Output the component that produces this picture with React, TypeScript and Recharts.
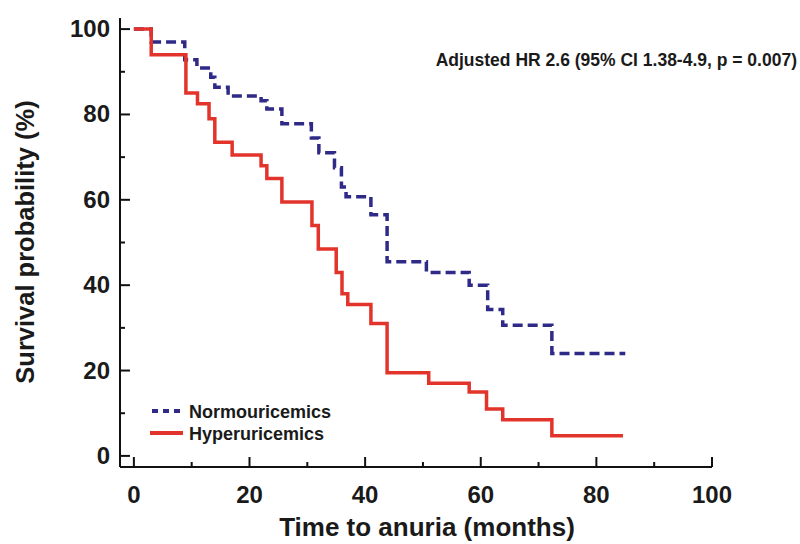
import React from 'react';
import { LineChart, Line, XAxis, YAxis, Customized } from 'recharts';

const normoTimes = [0, 3, 8.8, 10.9, 13.3, 14, 16.3, 22, 23, 25.6, 30.7, 32, 34.7, 35.9, 36.7, 41, 43.8, 50.6, 58, 61.2, 63.8, 72.3, 85];
const normoSurv = [100, 97, 92.8, 90.9, 88.7, 86.4, 84.3, 83.2, 81.3, 77.8, 74.5, 71, 67.5, 63, 60.7, 56.5, 45.5, 43, 40, 34.3, 30.6, 24, 24];

const hyperTimes = [0, 3, 9, 11, 13, 14, 17, 22, 23, 25.6, 30.8, 31.9, 35, 36, 37, 41, 43.8, 51, 58, 61, 63.8, 72.3, 84.6];
const hyperSurv = [100, 94, 85, 82.5, 79, 73.5, 70.5, 68, 65, 59.5, 54, 48.5, 43, 38, 35.5, 31, 19.5, 17, 15, 11, 8.5, 4.7, 4.7];

const xTicks = [0, 10, 20, 30, 40, 50, 60, 70, 80, 90, 100];
const yTicks = [0, 10, 20, 30, 40, 50, 60, 70, 80, 90, 100];

const seriesNames = ['Normouricemics', 'Hyperuricemics'];
const annotation = 'Adjusted HR 2.6 (95% CI 1.38-4.9, p = 0.007)';
const xTitle = 'Time to anuria (months)';
const yTitle = 'Survival probability (%)';

const BLUE = '#2f2a88';
const RED = '#e3342c';
const FONT = '"Liberation Sans", Arial, sans-serif';

const normoData = normoTimes.map((t, i) => ({ t, s: normoSurv[i] }));
const hyperData = hyperTimes.map((t, i) => ({ t, s: hyperSurv[i] }));

const YTick = (props: any) => {
  const { x, y, payload } = props;
  const v = payload.value as number;
  const major = v % 20 === 0;
  const ax = x + 10;
  return (
    <g>
      <line x1={ax} y1={y} x2={ax + (major ? 10 : 5)} y2={y} stroke="#111" strokeWidth={2} />
      {major && (
        <text x={x} y={y + 8} textAnchor="end" fontFamily={FONT} fontWeight="bold" fontSize={24} fill="#1a1a1a">
          {v}
        </text>
      )}
    </g>
  );
};

const XTick = (props: any) => {
  const { x, y, payload } = props;
  const v = payload.value as number;
  const major = v % 20 === 0;
  return (
    <g>
      <line x1={x} y1={y} x2={x} y2={y - (major ? 10 : 5)} stroke="#111" strokeWidth={2} />
      {major && (
        <text x={x} y={y + 36} textAnchor="middle" fontFamily={FONT} fontWeight="bold" fontSize={24} fill="#1a1a1a">
          {v}
        </text>
      )}
    </g>
  );
};

const Overlay = () => (
  <g fontFamily={FONT} fontWeight="bold" fill="#1a1a1a">
    <text x={797} y={66} textAnchor="end" fontSize={17.5}>{annotation}</text>
    <line x1={152} y1={411} x2={183} y2={411} stroke={BLUE} strokeWidth={4} strokeDasharray="6 5" />
    <text x={189} y={418} fontSize={18}>{seriesNames[0]}</text>
    <line x1={150} y1={433} x2={183} y2={433} stroke={RED} strokeWidth={4} />
    <text x={189} y={440} fontSize={18}>{seriesNames[1]}</text>
    <text x={427} y={536} textAnchor="middle" fontSize={26}>{xTitle}</text>
    <text transform="translate(34,242) rotate(-90)" textAnchor="middle" fontSize={25.5}>{yTitle}</text>
  </g>
);

export default function App() {
  return (
    <div style={{ position: 'absolute', left: 0, top: 0, width: 800, height: 544, background: '#fff' }}>
      <LineChart width={800} height={544} margin={{ top: 18, right: 88, bottom: 0, left: 0 }}>
        <XAxis
          type="number"
          dataKey="t"
          domain={[-2.4, 100]}
          ticks={xTicks}
          allowDataOverflow
          height={77}
          tickSize={0}
          tickMargin={0}
          tick={<XTick />}
          axisLine={{ stroke: '#111', strokeWidth: 2 }}
          tickLine={false}
        />
        <YAxis
          type="number"
          dataKey="s"
          domain={[-2.6, 102.6]}
          ticks={yTicks}
          allowDataOverflow
          width={120}
          tickSize={0}
          tickMargin={10}
          tick={<YTick />}
          axisLine={{ stroke: '#111', strokeWidth: 2 }}
          tickLine={false}
        />
        <Line
          data={normoData}
          dataKey="s"
          type="stepAfter"
          stroke={BLUE}
          strokeWidth={3.5}
          strokeDasharray="10 5"
          dot={false}
          isAnimationActive={false}
          name={seriesNames[0]}
        />
        <Line
          data={hyperData}
          dataKey="s"
          type="stepAfter"
          stroke={RED}
          strokeWidth={3.5}
          dot={false}
          isAnimationActive={false}
          name={seriesNames[1]}
        />
        <Customized component={Overlay} />
      </LineChart>
    </div>
  );
}
